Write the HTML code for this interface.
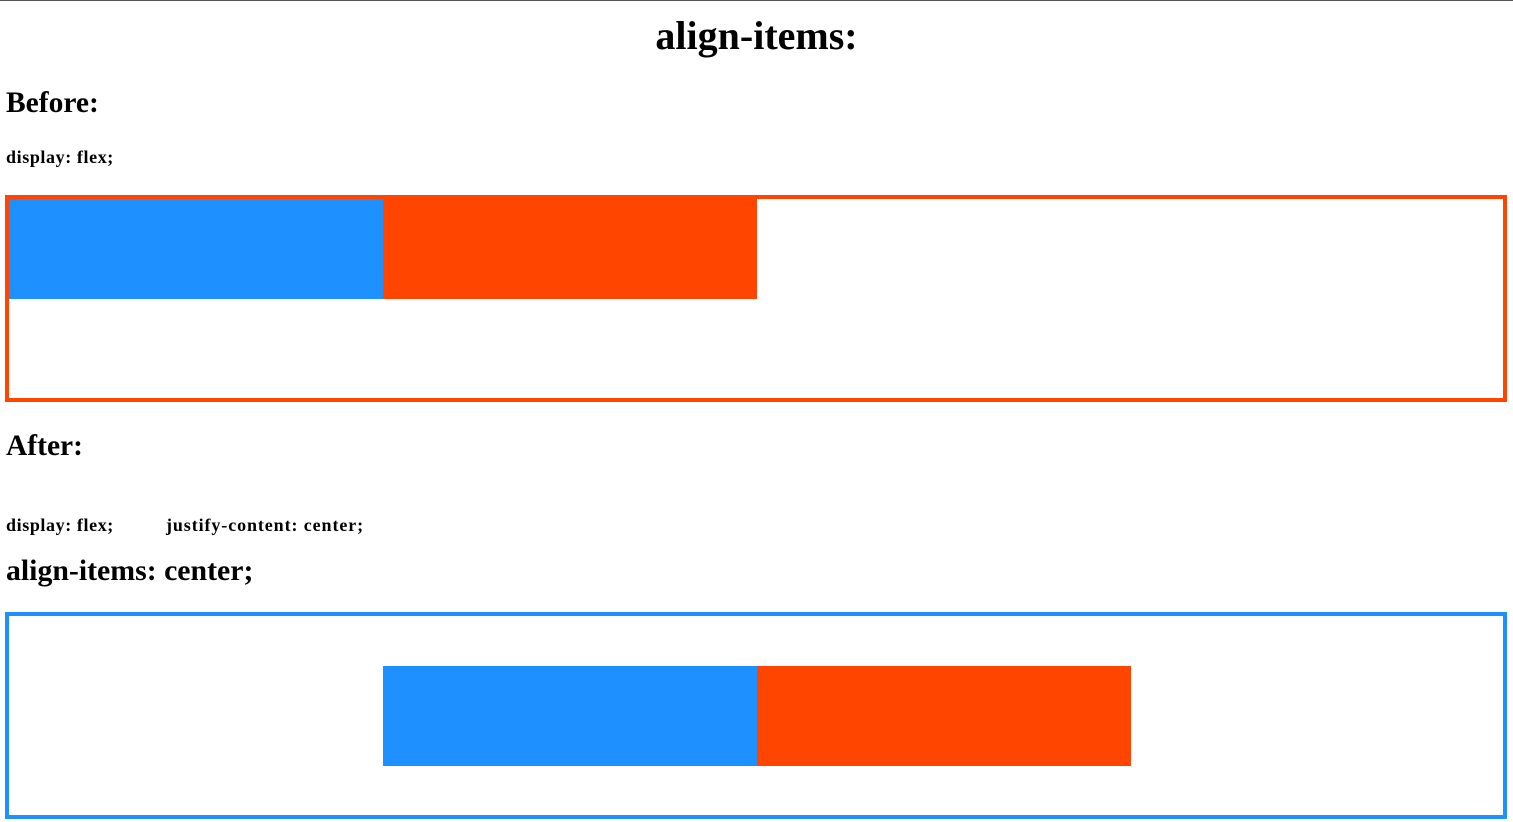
<!DOCTYPE html>
<html><head><meta charset="utf-8"><style>
body{margin:0;width:1513px;height:822px;overflow:hidden;background:#fff;font-family:"Liberation Serif",serif;font-weight:bold;color:#000;position:relative;border-top:1px solid #555;box-sizing:border-box}
.t{position:absolute;white-space:nowrap;line-height:1}
.box{position:absolute;left:5px;width:1494px;height:199px;border:4px solid}
.it{position:absolute;width:374px;height:100px}
</style></head><body>
<div class="t" style="left:0;width:1513px;text-align:center;top:15px;font-size:40px">align-items:</div>
<div class="t" style="left:6px;top:88px;font-size:29.5px">Before:</div>
<div class="t" style="left:6px;top:147px;font-size:18px;letter-spacing:0.6px">display: flex;</div>
<div class="box" style="top:194px;border-color:#ff4500">
<div class="it" style="left:0;top:0;background:#1e90ff"></div>
<div class="it" style="left:374px;top:0;background:#ff4500"></div>
</div>
<div class="t" style="left:6px;top:431px;font-size:29.5px">After:</div>
<div class="t" style="left:6px;top:515px;font-size:18px;letter-spacing:0.6px">display: flex;</div>
<div class="t" style="left:166px;top:515px;font-size:18px;letter-spacing:0.9px">justify-content: center;</div>
<div class="t" style="left:6px;top:555px;font-size:29.8px">align-items: center;</div>
<div class="box" style="top:611px;border-color:#1e90ff">
<div class="it" style="left:374px;top:50px;background:#1e90ff"></div>
<div class="it" style="left:748px;top:50px;background:#ff4500"></div>
</div>
</body></html>
